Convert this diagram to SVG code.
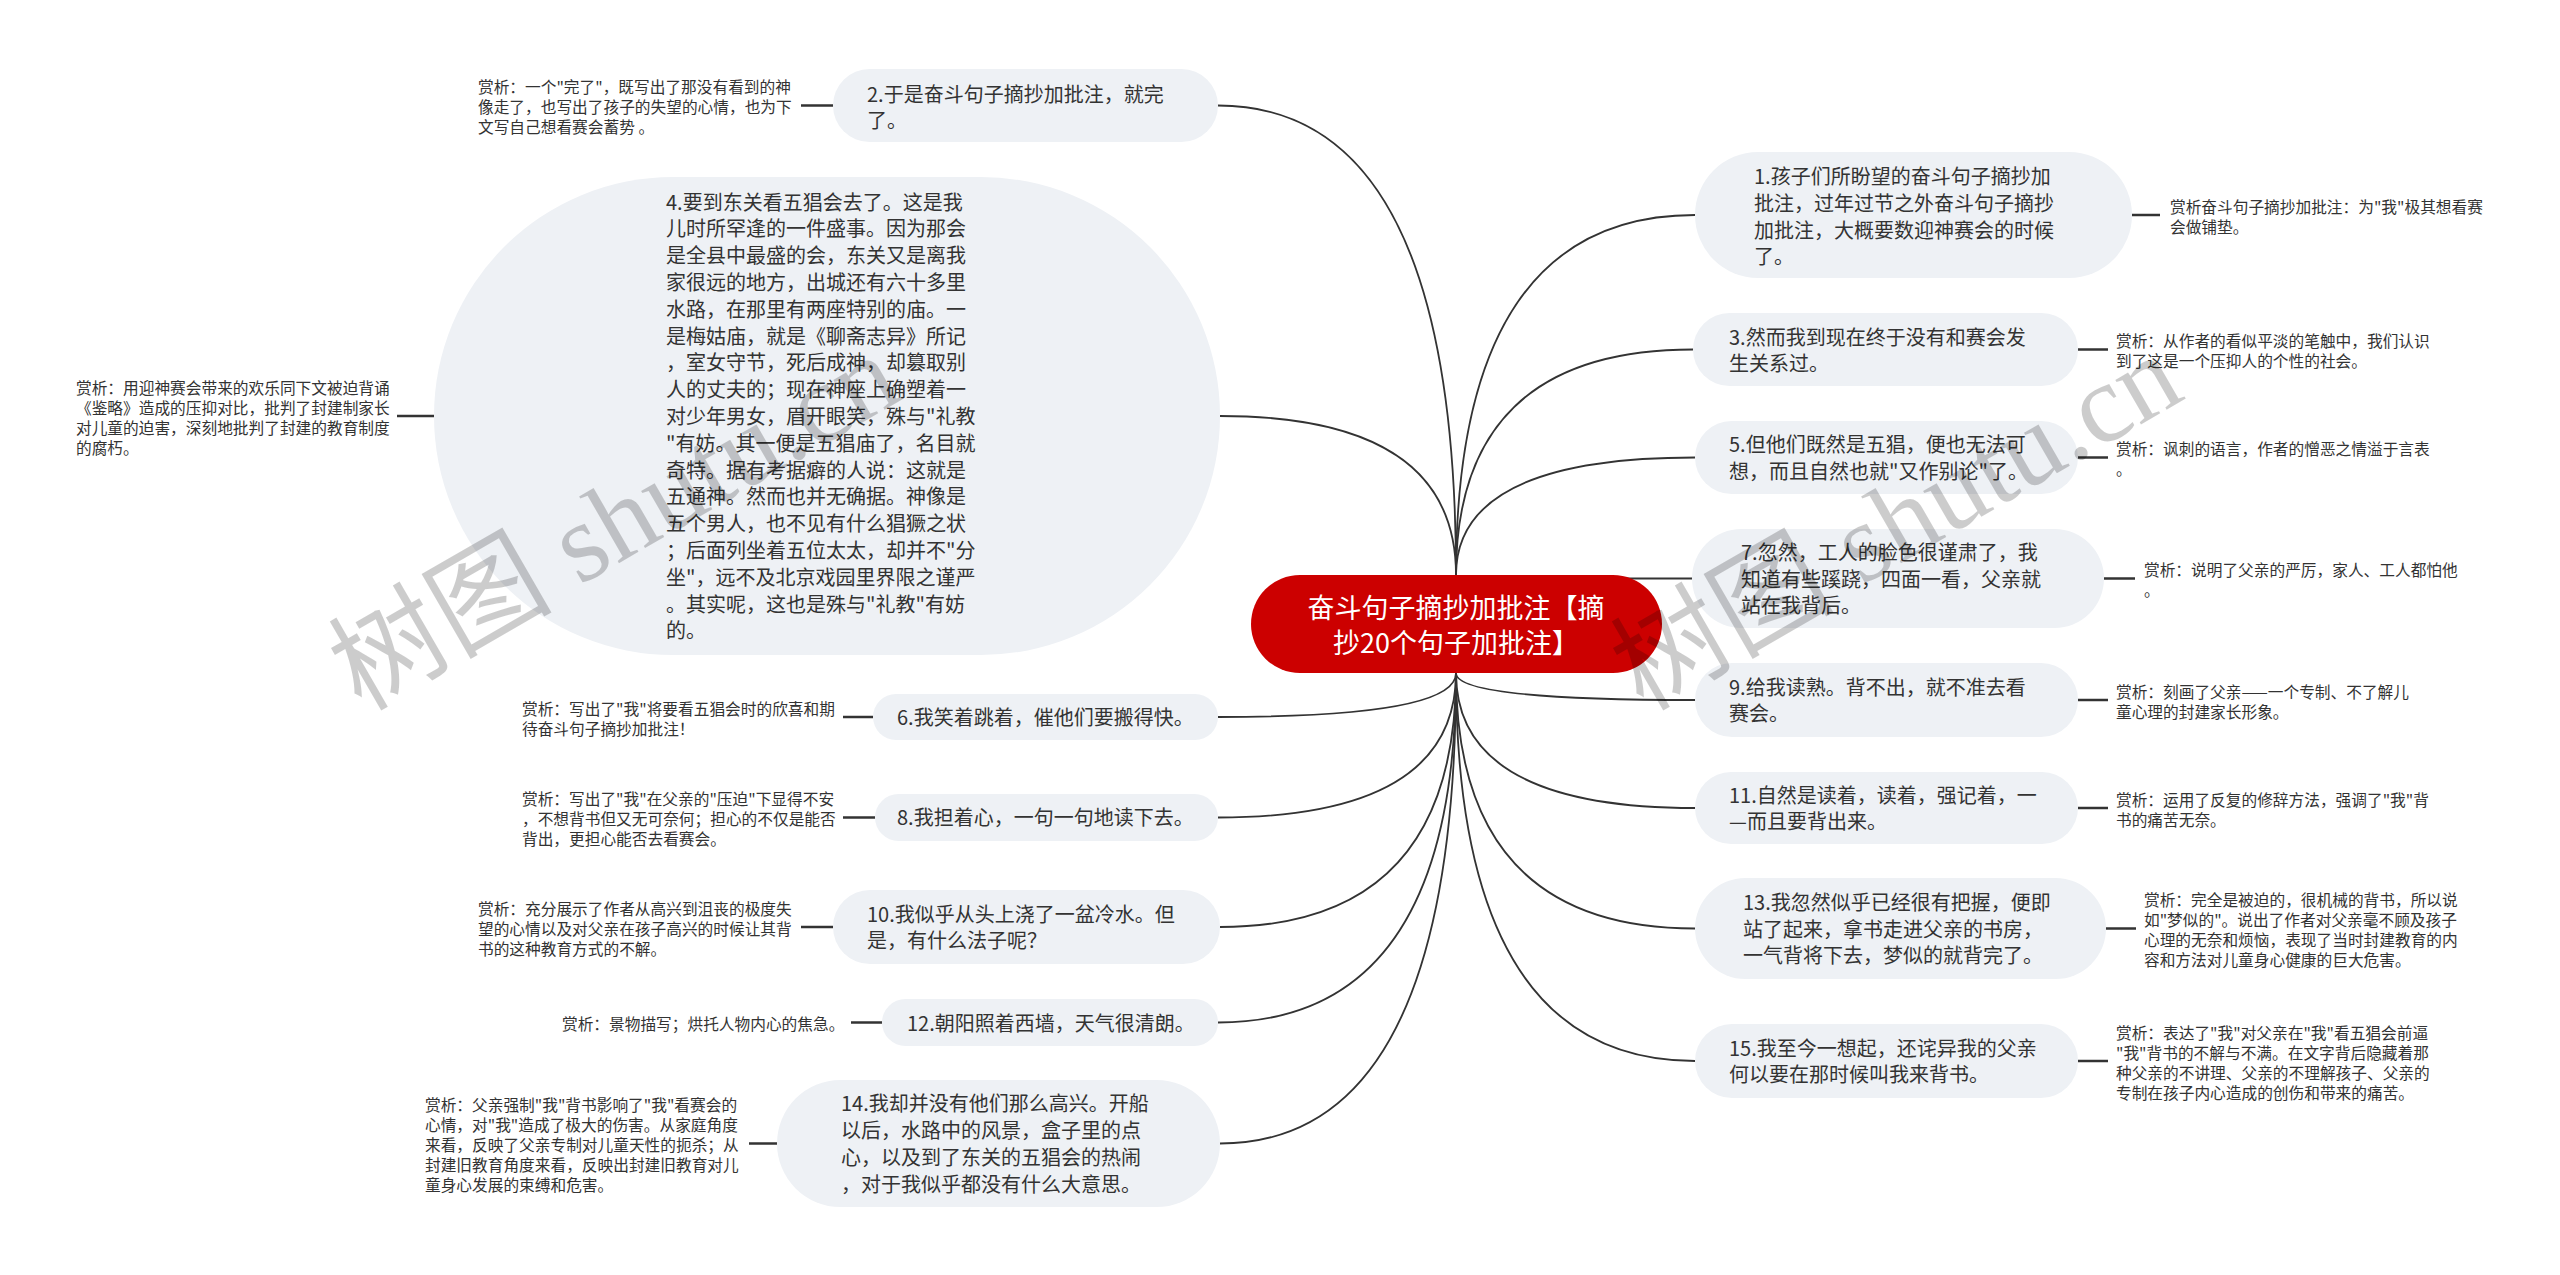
<svg xmlns="http://www.w3.org/2000/svg" width="2560" height="1275" viewBox="0 0 2560 1275">
<style>
.bg{fill:#ffffff}
.nd{fill:#eef1f5}
.rt{fill:#cc0000}
.t{font-family:"Noto Sans CJK SC","Noto Sans",sans-serif;font-size:20px;fill:#333333}
.a{font-family:"Noto Sans CJK SC","Noto Sans",sans-serif;font-size:15.7px;fill:#333333}
.rtx{font-family:"Noto Sans CJK SC","Noto Sans",sans-serif;font-size:27px;fill:#ffffff;text-anchor:middle}
.c{fill:none;stroke:#333333;stroke-width:1.8}
.s{fill:none;stroke:#333333;stroke-width:2.5}
.wm{font-family:"Liberation Serif","Noto Sans CJK SC",serif;font-size:112px;fill:#000000;fill-opacity:0.2}
</style>
<rect class="bg" x="0" y="0" width="2560" height="1275"/>
<g id="connectors">
<path class="c" d="M1456 575 Q1456 215 1695 215"/>
<path class="c" d="M1456 575 Q1456 349.5 1693 349.5"/>
<path class="c" d="M1456 575 Q1456 457.5 1695 457.5"/>
<path class="c" d="M1456 575 Q1456 578.5 1692 578.5"/>
<path class="c" d="M1456 673 Q1456 700 1695 700"/>
<path class="c" d="M1456 673 Q1456 808 1695 808"/>
<path class="c" d="M1456 673 Q1456 928.5 1695 928.5"/>
<path class="c" d="M1456 673 Q1456 1061 1695 1061"/>
<path class="c" d="M1456 575 Q1456 105.5 1218 105.5"/>
<path class="c" d="M1456 575 Q1456 416 1220 416"/>
<path class="c" d="M1456 673 Q1456 717 1218 717"/>
<path class="c" d="M1456 673 Q1456 817.5 1218 817.5"/>
<path class="c" d="M1456 673 Q1456 927 1220 927"/>
<path class="c" d="M1456 673 Q1456 1022.5 1218 1022.5"/>
<path class="c" d="M1456 673 Q1456 1143.5 1220 1143.5"/>
<path class="s" d="M2132 215 H2160"/>
<path class="s" d="M2078 349.5 H2108"/>
<path class="s" d="M2078 457.5 H2108"/>
<path class="s" d="M2104 578.5 H2135"/>
<path class="s" d="M2078 700 H2108"/>
<path class="s" d="M2078 808 H2108"/>
<path class="s" d="M2106 928.5 H2136"/>
<path class="s" d="M2078 1061 H2108"/>
<path class="s" d="M801 105.5 H833"/>
<path class="s" d="M397 416 H434"/>
<path class="s" d="M843 717 H873"/>
<path class="s" d="M843 817.5 H875"/>
<path class="s" d="M801 927 H833"/>
<path class="s" d="M851 1022.5 H882"/>
<path class="s" d="M749 1143.5 H777"/>
</g>
<g id="root">
<rect class="rt" x="1251" y="575" width="411" height="98" rx="49"/>
<text class="rtx"><tspan x="1456" y="618">奋斗句子摘抄加批注【摘</tspan><tspan x="1456" y="653">抄20个句子加批注】</tspan></text>
</g>
<g id="n1">
<rect class="nd" x="1695" y="152" width="437" height="126" rx="63"/>
<text class="t"><tspan x="1754" y="184">1.孩子们所盼望的奋斗句子摘抄加</tspan><tspan x="1754" y="210.8">批注，过年过节之外奋斗句子摘抄</tspan><tspan x="1754" y="237.6">加批注，大概要数迎神赛会的时候</tspan><tspan x="1754" y="264.4">了。</tspan></text>
</g>
<g id="a1"><text class="a"><tspan x="2170" y="212.6">赏析奋斗句子摘抄加批注：为"我"极其想看赛</tspan><tspan x="2170" y="232.6">会做铺垫。</tspan></text></g>
<g id="n3">
<rect class="nd" x="1693" y="313" width="385" height="73" rx="36.5"/>
<text class="t"><tspan x="1729" y="344.5">3.然而我到现在终于没有和赛会发</tspan><tspan x="1729" y="371.3">生关系过。</tspan></text>
</g>
<g id="a3"><text class="a"><tspan x="2116" y="347.1">赏析：从作者的看似平淡的笔触中，我们认识</tspan><tspan x="2116" y="367.1">到了这是一个压抑人的个性的社会。</tspan></text></g>
<g id="n5">
<rect class="nd" x="1695" y="421" width="383" height="73" rx="36.5"/>
<text class="t"><tspan x="1729" y="452">5.但他们既然是五猖，便也无法可</tspan><tspan x="1729" y="478.8">想，而且自然也就"又作别论"了。</tspan></text>
</g>
<g id="a5"><text class="a"><tspan x="2116" y="455.1">赏析：讽刺的语言，作者的憎恶之情溢于言表</tspan><tspan x="2116" y="475.1">。</tspan></text></g>
<g id="n7">
<rect class="nd" x="1692" y="529" width="412" height="99" rx="49.5"/>
<text class="t"><tspan x="1741" y="559.7">7.忽然，工人的脸色很谨肃了，我</tspan><tspan x="1741" y="586.5">知道有些蹊跷，四面一看，父亲就</tspan><tspan x="1741" y="613.3">站在我背后。</tspan></text>
</g>
<g id="a7"><text class="a"><tspan x="2144" y="576.1">赏析：说明了父亲的严厉，家人、工人都怕他</tspan><tspan x="2144" y="596.1">。</tspan></text></g>
<g id="n9">
<rect class="nd" x="1695" y="663" width="383" height="74" rx="37"/>
<text class="t"><tspan x="1729" y="694.6">9.给我读熟。背不出，就不准去看</tspan><tspan x="1729" y="721.4">赛会。</tspan></text>
</g>
<g id="a9"><text class="a"><tspan x="2116" y="697.6">赏析：刻画了父亲——一个专制、不了解儿</tspan><tspan x="2116" y="717.6">童心理的封建家长形象。</tspan></text></g>
<g id="n11">
<rect class="nd" x="1695" y="772" width="383" height="72" rx="36"/>
<text class="t"><tspan x="1729" y="802.6">11.自然是读着，读着，强记着，一</tspan><tspan x="1729" y="829.4">—而且要背出来。</tspan></text>
</g>
<g id="a11"><text class="a"><tspan x="2116" y="805.6">赏析：运用了反复的修辞方法，强调了"我"背</tspan><tspan x="2116" y="825.6">书的痛苦无奈。</tspan></text></g>
<g id="n13">
<rect class="nd" x="1695" y="878" width="411" height="101" rx="50.5"/>
<text class="t"><tspan x="1743" y="909.7">13.我忽然似乎已经很有把握，便即</tspan><tspan x="1743" y="936.5">站了起来，拿书走进父亲的书房，</tspan><tspan x="1743" y="963.3">一气背将下去，梦似的就背完了。</tspan></text>
</g>
<g id="a13"><text class="a"><tspan x="2144" y="906.1">赏析：完全是被迫的，很机械的背书，所以说</tspan><tspan x="2144" y="926.1">如"梦似的"。说出了作者对父亲毫不顾及孩子</tspan><tspan x="2144" y="946.1">心理的无奈和烦恼，表现了当时封建教育的内</tspan><tspan x="2144" y="966.1">容和方法对儿童身心健康的巨大危害。</tspan></text></g>
<g id="n15">
<rect class="nd" x="1695" y="1024" width="383" height="74" rx="37"/>
<text class="t"><tspan x="1729" y="1055.6">15.我至今一想起，还诧异我的父亲</tspan><tspan x="1729" y="1082.4">何以要在那时候叫我来背书。</tspan></text>
</g>
<g id="a15"><text class="a"><tspan x="2116" y="1038.6">赏析：表达了"我"对父亲在"我"看五猖会前逼</tspan><tspan x="2116" y="1058.6">"我"背书的不解与不满。在文字背后隐藏着那</tspan><tspan x="2116" y="1078.6">种父亲的不讲理、父亲的不理解孩子、父亲的</tspan><tspan x="2116" y="1098.6">专制在孩子内心造成的创伤和带来的痛苦。</tspan></text></g>
<g id="n2">
<rect class="nd" x="833" y="69" width="385" height="73" rx="36.5"/>
<text class="t"><tspan x="867" y="101.5">2.于是奋斗句子摘抄加批注，就完</tspan><tspan x="867" y="128.3">了。</tspan></text>
</g>
<g id="a2"><text class="a"><tspan x="478" y="93.1">赏析：一个"完了"，既写出了那没有看到的神</tspan><tspan x="478" y="113.1">像走了，也写出了孩子的失望的心情，也为下</tspan><tspan x="478" y="133.1">文写自己想看赛会蓄势 。</tspan></text></g>
<g id="n4">
<rect class="nd" x="434" y="177" width="786" height="478" rx="239"/>
<text class="t"><tspan x="666" y="209.6">4.要到东关看五猖会去了。这是我</tspan><tspan x="666" y="236.4">儿时所罕逢的一件盛事。因为那会</tspan><tspan x="666" y="263.2">是全县中最盛的会，东关又是离我</tspan><tspan x="666" y="290">家很远的地方，出城还有六十多里</tspan><tspan x="666" y="316.8">水路，在那里有两座特别的庙。一</tspan><tspan x="666" y="343.6">是梅姑庙，就是《聊斋志异》所记</tspan><tspan x="666" y="370.4">，室女守节，死后成神，却篡取别</tspan><tspan x="666" y="397.2">人的丈夫的；现在神座上确塑着一</tspan><tspan x="666" y="424">对少年男女，眉开眼笑，殊与"礼教</tspan><tspan x="666" y="450.8">"有妨。其一便是五猖庙了，名目就</tspan><tspan x="666" y="477.6">奇特。据有考据癖的人说：这就是</tspan><tspan x="666" y="504.4">五通神。然而也并无确据。神像是</tspan><tspan x="666" y="531.2">五个男人，也不见有什么猖獗之状</tspan><tspan x="666" y="558">；后面列坐着五位太太，却并不"分</tspan><tspan x="666" y="584.8">坐"，远不及北京戏园里界限之谨严</tspan><tspan x="666" y="611.6">。其实呢，这也是殊与"礼教"有妨</tspan><tspan x="666" y="638.4">的。</tspan></text>
</g>
<g id="a4"><text class="a"><tspan x="76" y="393.6">赏析：用迎神赛会带来的欢乐同下文被迫背诵</tspan><tspan x="76" y="413.6">《鉴略》造成的压抑对比，批判了封建制家长</tspan><tspan x="76" y="433.6">对儿童的迫害，深刻地批判了封建的教育制度</tspan><tspan x="76" y="453.6">的腐朽。</tspan></text></g>
<g id="n6">
<rect class="nd" x="873" y="694" width="345" height="46" rx="23"/>
<text class="t"><tspan x="897" y="725">6.我笑着跳着，催他们要搬得快。</tspan></text>
</g>
<g id="a6"><text class="a"><tspan x="522" y="714.6">赏析：写出了"我"将要看五猖会时的欣喜和期</tspan><tspan x="522" y="734.6">待奋斗句子摘抄加批注！</tspan></text></g>
<g id="n8">
<rect class="nd" x="875" y="794" width="343" height="47" rx="23.5"/>
<text class="t"><tspan x="897" y="825">8.我担着心，一句一句地读下去。</tspan></text>
</g>
<g id="a8"><text class="a"><tspan x="522" y="805.1">赏析：写出了"我"在父亲的"压迫"下显得不安</tspan><tspan x="522" y="825.1">，不想背书但又无可奈何；担心的不仅是能否</tspan><tspan x="522" y="845.1">背出，更担心能否去看赛会。</tspan></text></g>
<g id="n10">
<rect class="nd" x="833" y="890" width="387" height="74" rx="37"/>
<text class="t"><tspan x="867" y="921.6">10.我似乎从头上浇了一盆冷水。但</tspan><tspan x="867" y="948.4">是，有什么法子呢？</tspan></text>
</g>
<g id="a10"><text class="a"><tspan x="478" y="914.6">赏析：充分展示了作者从高兴到沮丧的极度失</tspan><tspan x="478" y="934.6">望的心情以及对父亲在孩子高兴的时候让其背</tspan><tspan x="478" y="954.6">书的这种教育方式的不解。</tspan></text></g>
<g id="n12">
<rect class="nd" x="882" y="999" width="336" height="47" rx="23.5"/>
<text class="t"><tspan x="907" y="1030.5">12.朝阳照着西墙，天气很清朗。</tspan></text>
</g>
<g id="a12"><text class="a"><tspan x="562" y="1030.1">赏析：景物描写；烘托人物内心的焦急。</tspan></text></g>
<g id="n14">
<rect class="nd" x="777" y="1080" width="443" height="127" rx="63.5"/>
<text class="t"><tspan x="841" y="1111.3">14.我却并没有他们那么高兴。开船</tspan><tspan x="841" y="1138.1">以后，水路中的风景，盒子里的点</tspan><tspan x="841" y="1164.9">心，以及到了东关的五猖会的热闹</tspan><tspan x="841" y="1191.7">，对于我似乎都没有什么大意思。</tspan></text>
</g>
<g id="a14"><text class="a"><tspan x="425" y="1111.1">赏析：父亲强制"我"背书影响了"我"看赛会的</tspan><tspan x="425" y="1131.1">心情，对"我"造成了极大的伤害。从家庭角度</tspan><tspan x="425" y="1151.1">来看，反映了父亲专制对儿童天性的扼杀；从</tspan><tspan x="425" y="1171.1">封建旧教育角度来看，反映出封建旧教育对儿</tspan><tspan x="425" y="1191.1">童身心发展的束缚和危害。</tspan></text></g>
<g id="watermark">
<text class="wm" transform="translate(361 712) rotate(-30)">树图 shutu.cn</text>
<text class="wm" transform="translate(1643 712) rotate(-30)">树图 shutu.cn</text>
</g>
</svg>
